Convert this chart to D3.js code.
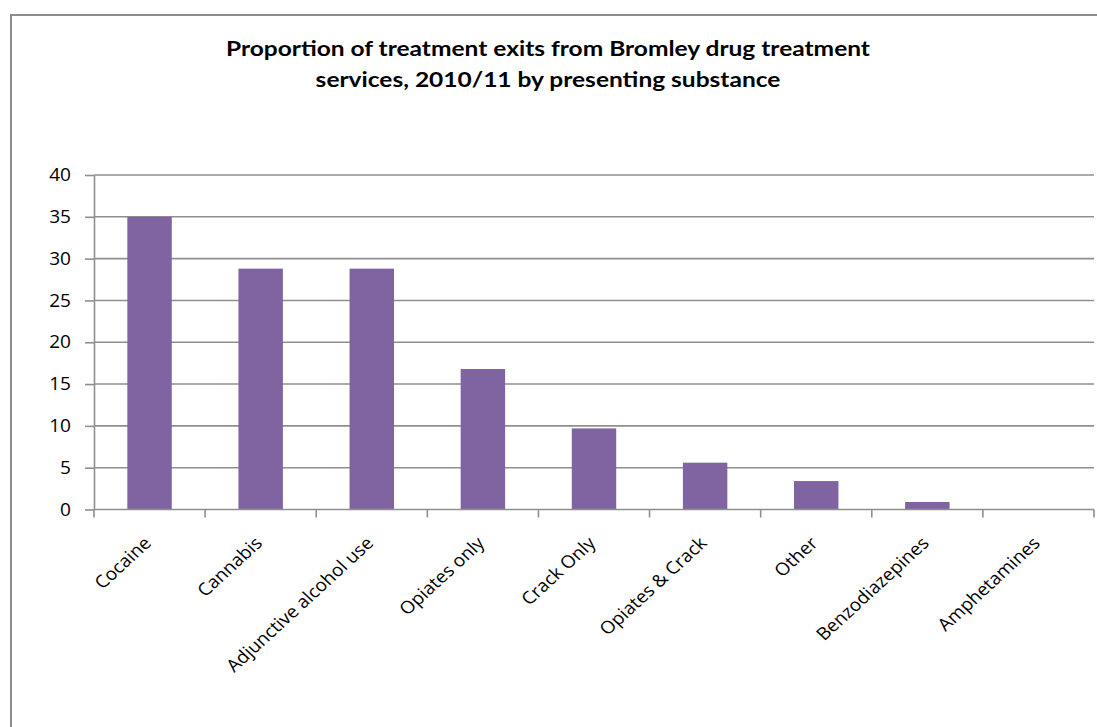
<!DOCTYPE html>
<html>
<head>
<meta charset="utf-8">
<script src="https://cdn.jsdelivr.net/npm/d3@7"></script>
<style>
  html, body { margin: 0; padding: 0; background: #fff; }
  svg { display: block; }
</style>
</head>
<body>
<svg id="chart" width="1097" height="727"></svg>
<script>
// Presenting substances, in the order shown on the axis
const categories = [
  "Cocaine", "Cannabis", "Adjunctive alcohol use", "Opiates only",
  "Crack Only", "Opiates & Crack", "Other", "Benzodiazepines", "Amphetamines"
];
// Proportion of treatment exits (%) for each substance
const proportions = [35.0, 28.8, 28.8, 16.8, 9.7, 5.6, 3.4, 0.9, 0];
// Value axis ticks
const yTicks = [0, 5, 10, 15, 20, 25, 30, 35, 40];
const titleLines = [
  "Proportion of treatment exits from Bromley drug treatment",
  "services, 2010/11 by presenting substance"
];

const svg = d3.select("#chart");
const W = 1097, H = 727;
const plot = { left: 94, right: 1094, top: 175, bottom: 509.5 };
const gridColor = "#8f8f8f";
const labelFont = "'Open Sans', 'Noto Sans', sans-serif";
const stretch = 1.09;   // text is drawn slightly wide

// Outer chart frame
svg.append("rect")
  .attr("x", 11).attr("y", 15)
  .attr("width", W + 20).attr("height", H + 20)
  .attr("fill", "#fff")
  .attr("stroke", "#8c8c8c").attr("stroke-width", 2);

// Title, centred and widened to its measured line length
const titleX = 548;
const title = svg.append("text")
  .attr("text-anchor", "middle")
  .attr("font-family", "Lato, 'Open Sans', sans-serif")
  .attr("font-weight", "bold")
  .attr("font-size", 21)
  .attr("fill", "#000");
title.selectAll("tspan").data(titleLines).join("tspan")
  .attr("x", 0)
  .attr("y", (d, i) => 56 + i * 31)
  .text(d => d);
const line2Len = title.selectAll("tspan").nodes()[1].getComputedTextLength();
const titleScale = 465 / line2Len;
title.attr("transform", `translate(${titleX},0) scale(${titleScale},1)`);

const x = d3.scaleBand()
  .domain(categories)
  .range([plot.left, plot.right])
  .paddingInner(0.6)
  .paddingOuter(0.3);

const y = d3.scaleLinear()
  .domain([0, 40])
  .range([plot.bottom, plot.top]);

// Horizontal gridlines
svg.append("g")
  .selectAll("line")
  .data(yTicks.filter(t => t > 0))
  .join("line")
  .attr("x1", plot.left).attr("x2", plot.right)
  .attr("y1", d => y(d)).attr("y2", d => y(d))
  .attr("stroke", gridColor).attr("stroke-width", 1.6);

// Bars
svg.append("g")
  .selectAll("rect")
  .data(categories)
  .join("rect")
  .attr("x", d => x(d))
  .attr("width", x.bandwidth())
  .attr("y", (d, i) => y(proportions[i]))
  .attr("height", (d, i) => y(0) - y(proportions[i]))
  .attr("fill", "#8064a2");

// Value axis
const yAxis = svg.append("g")
  .attr("transform", `translate(${plot.left},0)`)
  .call(d3.axisLeft(y).tickValues(yTicks).tickSize(9).tickPadding(14).tickSizeOuter(0));
yAxis.select(".domain").attr("stroke", gridColor).attr("stroke-width", 1.6);
yAxis.selectAll(".tick line").attr("stroke", gridColor).attr("stroke-width", 1.6);
yAxis.selectAll(".tick text")
  .attr("x", null)
  .attr("transform", `translate(-23,0) scale(${stretch},1)`)
  .attr("font-family", labelFont)
  .attr("font-size", 17.5)
  .attr("fill", "#000");

// Category axis: line with tick marks at band boundaries
const boundaries = d3.range(categories.length + 1)
  .map(i => plot.left + i * (plot.right - plot.left) / categories.length);
const xAxis = svg.append("g");
xAxis.append("line")
  .attr("x1", plot.left).attr("x2", plot.right)
  .attr("y1", y(0)).attr("y2", y(0))
  .attr("stroke", gridColor).attr("stroke-width", 1.6);
xAxis.selectAll("line.tick")
  .data(boundaries)
  .join("line")
  .attr("class", "tick")
  .attr("x1", d => d).attr("x2", d => d)
  .attr("y1", y(0)).attr("y2", y(0) + 8)
  .attr("stroke", gridColor).attr("stroke-width", 1.6);

// Rotated category labels
xAxis.selectAll("text")
  .data(categories)
  .join("text")
  .attr("transform", d => `translate(${x(d) + x.bandwidth() / 2 - 2},540) scale(${stretch},1) rotate(-45)`)
  .attr("text-anchor", "end")
  .attr("dy", "0.35em")
  .attr("font-family", labelFont)
  .attr("font-size", 17.5)
  .attr("fill", "#000")
  .text(d => d);
</script>
</body>
</html>
